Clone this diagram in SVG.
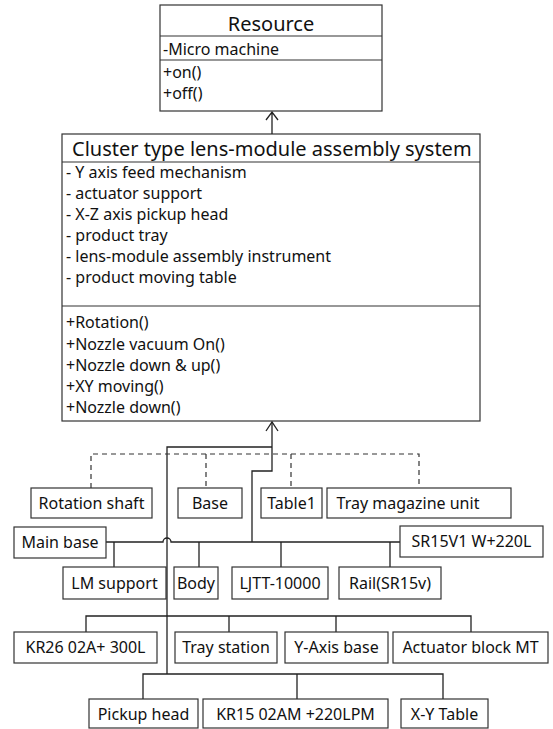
<svg xmlns="http://www.w3.org/2000/svg" width="553" height="729" viewBox="0 0 553 729">
<style>
.box{fill:#fff;stroke:#333;stroke-width:1.2}
.sep{stroke:#333;stroke-width:1.2}
.t{font-family:"Noto Sans","Open Sans",sans-serif;fill:#111}
.lbl{font-size:16px;text-anchor:middle}
.attr{font-size:16px}
.ttl{font-size:20px}
.ln{fill:none;stroke:#222;stroke-width:1.3}
.dash{fill:none;stroke:#333;stroke-width:1.2;stroke-dasharray:5 4}
</style>
<rect width="553" height="729" fill="#fff"/>
<g id="resource">
<rect class="box" x="160" y="5" width="222" height="106"/>
<line class="sep" x1="160" y1="36" x2="382" y2="36"/>
<line class="sep" x1="160" y1="60" x2="382" y2="60"/>
<text class="t ttl" x="271" y="31" text-anchor="middle">Resource</text>
<text class="t attr" x="163" y="55">-Micro machine</text>
<text class="t attr" x="163" y="78">+on()</text>
<text class="t attr" x="163" y="99">+off()</text>
</g>
<g id="cluster">
<rect class="box" x="62" y="134" width="418" height="287"/>
<line class="sep" x1="62" y1="162" x2="480" y2="162"/>
<line class="sep" x1="62" y1="306" x2="480" y2="306"/>
<text class="t ttl" x="72" y="156">Cluster type lens-module assembly system</text>
<text class="t attr" x="66" y="178">- Y axis feed mechanism</text>
<text class="t attr" x="66" y="199">- actuator support</text>
<text class="t attr" x="66" y="220">- X-Z axis pickup head</text>
<text class="t attr" x="66" y="241">- product tray</text>
<text class="t attr" x="66" y="262">- lens-module assembly instrument</text>
<text class="t attr" x="66" y="283">- product moving table</text>
<text class="t attr" x="66" y="328">+Rotation()</text>
<text class="t attr" x="66" y="350">+Nozzle vacuum On()</text>
<text class="t attr" x="66" y="371">+Nozzle down &amp; up()</text>
<text class="t attr" x="66" y="392">+XY moving()</text>
<text class="t attr" x="66" y="413">+Nozzle down()</text>
</g>
<g id="connectors">
<path class="ln" d="M272,134 V112 M266,120 L272,112 L278,120"/>
<path class="ln" d="M266,431 L272,422 L278,431" stroke-width="2"/>
<path class="ln" d="M272,422 V471 H252 V542"/>
<path class="ln" d="M272,447 H167 V674"/>
<path class="dash" d="M91,488 V454 H419 V488 M206,454 V488 M291,454 V488"/>
<path class="ln" d="M106,542 H163 A4,4 0 0 1 171,542 H400"/>
<path class="ln" d="M114,542 V567 M199,542 V567 M281,542 V567 M390,542 V567"/>
<path class="ln" d="M86,632 V616 H471 V632 M229,616 V632 M336,616 V632"/>
<path class="ln" d="M143,699 V674 H443 V699 M297,674 V699"/>
</g>
<g id="rotation-shaft"><rect class="box" x="31" y="488" width="121" height="30"/><text class="t lbl" x="91.5" y="509">Rotation shaft</text></g>
<g id="base"><rect class="box" x="178" y="488" width="64" height="30"/><text class="t lbl" x="210" y="509">Base</text></g>
<g id="table1"><rect class="box" x="261" y="488" width="61" height="30"/><text class="t lbl" x="291.5" y="509">Table1</text></g>
<g id="tray-magazine-unit"><rect class="box" x="327" y="488" width="184" height="30"/><text class="t lbl" x="408" y="509">Tray magazine unit</text></g>
<g id="main-base"><rect class="box" x="14" y="527" width="92" height="31"/><text class="t lbl" x="60" y="548">Main base</text></g>
<g id="sr15v1"><rect class="box" x="400" y="526" width="143" height="31"/><text class="t lbl" x="471.5" y="547">SR15V1 W+220L</text></g>
<g id="lm-support"><rect class="box" x="63" y="567" width="103" height="32"/><text class="t lbl" x="114.5" y="589">LM support</text></g>
<g id="body"><rect class="box" x="174" y="567" width="44" height="32"/><text class="t lbl" x="196" y="589">Body</text></g>
<g id="ljtt"><rect class="box" x="232" y="567" width="96" height="32"/><text class="t lbl" x="280" y="589">LJTT-10000</text></g>
<g id="rail"><rect class="box" x="339" y="567" width="102" height="32"/><text class="t lbl" x="390" y="589">Rail(SR15v)</text></g>
<g id="kr26"><rect class="box" x="14" y="632" width="143" height="31"/><text class="t lbl" x="85.5" y="653">KR26 02A+ 300L</text></g>
<g id="tray-station"><rect class="box" x="175" y="632" width="102" height="31"/><text class="t lbl" x="226" y="653">Tray station</text></g>
<g id="y-axis-base"><rect class="box" x="285" y="632" width="103" height="31"/><text class="t lbl" x="336.5" y="653">Y-Axis base</text></g>
<g id="actuator-block"><rect class="box" x="393" y="632" width="155" height="31"/><text class="t lbl" x="470.5" y="653">Actuator block MT</text></g>
<g id="pickup-head"><rect class="box" x="89" y="699" width="109" height="29"/><text class="t lbl" x="143.5" y="720">Pickup head</text></g>
<g id="kr15"><rect class="box" x="203" y="699" width="185" height="29"/><text class="t lbl" x="295.5" y="720">KR15 02AM +220LPM</text></g>
<g id="xy-table"><rect class="box" x="401" y="699" width="87" height="29"/><text class="t lbl" x="444.5" y="720">X-Y Table</text></g>
</svg>
